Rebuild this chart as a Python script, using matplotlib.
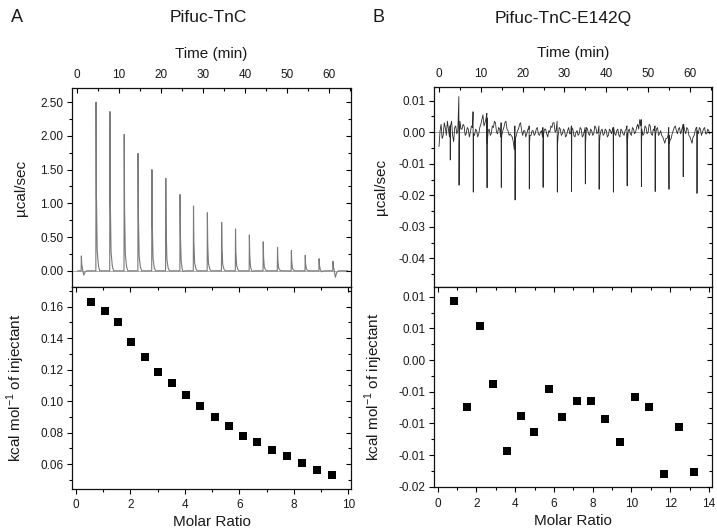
import numpy as np
import matplotlib
matplotlib.use("Agg")
import matplotlib.pyplot as plt
from matplotlib.ticker import MultipleLocator, FixedLocator, FixedFormatter

plt.rcParams["font.family"] = ["Liberation Sans", "DejaVu Sans"]
plt.rcParams["mathtext.fontset"] = "custom"
plt.rcParams["mathtext.rm"] = "Liberation Sans"

# ---- panel A: Pifuc-TnC thermogram (injection times, peak heights, µcal/sec) ----
a_inj_time = [1.0, 4.5, 7.8, 11.2, 14.5, 17.8, 21.1, 24.5, 27.7, 31.0,
              34.4, 37.7, 41.0, 44.3, 47.7, 51.0, 54.3, 57.6, 60.9]
a_inj_peak = [0.22, 2.50, 2.36, 2.02, 1.74, 1.50, 1.37, 1.13, 0.96, 0.86,
              0.72, 0.62, 0.53, 0.43, 0.35, 0.30, 0.23, 0.18, 0.14]
a_inj_dip = [-0.07, 0.0, 0.0, 0.0, 0.0, 0.0, 0.0, -0.03, 0.0, 0.0,
             0.0, 0.0, -0.02, 0.0, 0.0, 0.0, 0.0, -0.02, -0.10]

# ---- panel A: integrated heats ----
a_ratio = [0.55, 1.05, 1.53, 2.03, 2.52, 3.02, 3.53, 4.04, 4.57, 5.09,
           5.61, 6.14, 6.66, 7.21, 7.76, 8.30, 8.85, 9.41]
a_heat = [0.1632, 0.1575, 0.1505, 0.1376, 0.1281, 0.1186, 0.1116, 0.1040, 0.0970,
          0.0902, 0.0841, 0.0782, 0.0740, 0.0693, 0.0655, 0.0609, 0.0564, 0.0534]

# ---- panel B: Pifuc-TnC-E142Q thermogram baseline (0.001 µcal/sec, every 0.25 min) ----
b_noise_t0, b_noise_dt = 0.0, 0.25
b_noise_milli = [
    -4.5, 0.5, 2.5, -2.0, -1.0, 3.0, 1.5, -1.0, 3.5, 1.0, -1.5, 2.0, 3.5, -1.0, -3.0, 1.5, 2.0, -0.5, 0.5, 3.5,
    3.5, 1.0, 1.0, 2.5, 2.0, -1.0, -0.5, 1.5, 1.0, -1.5, 0.0, 2.0, 1.5, -0.5, -1.0, 1.0, 0.5, -1.5, -0.5, 1.5,
    2.5, 4.0, 5.5, 2.0, 3.0, 4.5, 4.5, 0.5, 1.0, -1.0, -0.5, 2.0, 1.5, 3.5, 3.0, 0.0, -0.5, 1.5, 1.0, -1.5,
    -1.0, 0.5, 1.5, 3.0, 3.5, 1.0, 0.5, -1.0, -0.5, -1.0, -1.5, -3.0, -5.5, -2.0, -1.0, 0.5, 1.0, 2.5, 3.0, 0.5,
    -1.0, 0.5, 0.5, -1.5, -0.5, 1.0, 1.0, -1.0, -1.0, 0.5, 0.5, -1.0, -0.5, 1.0, 1.5, -0.5, -1.0, 0.0, 0.5, -1.5,
    -0.5, 1.0, 1.0, -0.5, -1.5, 0.5, 0.0, 2.0, 1.5, 3.0, 3.0, 0.0, 0.5, -1.5, -1.0, 1.5, 1.0, -1.0, -0.5, 1.0,
    0.5, -1.5, -1.0, 0.5, 1.5, -0.5, -0.5, 1.5, 1.0, -1.0, -1.5, 0.0, 0.5, -1.0, -0.5, 1.5, 1.0, -1.5, -1.0, 0.5,
    0.5, 1.5, 1.0, -0.5, -1.0, 1.0, 0.5, -1.0, -0.5, 2.0, 1.5, -0.5, 0.0, -1.5, -1.0, 0.5, 1.0, -1.0, -0.5, 1.0,
    0.5, -1.5, -1.0, 1.0, 0.5, -0.5, 1.0, 1.5, -0.5, -1.0, 0.5, 1.0, -1.0, -1.5, 1.0, 0.5, -0.5, -1.0, 0.5, 1.0,
    -0.5, 0.5, 1.0, -0.5, -1.0, 1.5, 1.0, -0.5, 0.0, 1.5, 2.5, 1.0, 4.0, 2.0, 1.0, -1.0, -0.5, 2.0, 1.5, -0.5,
    0.0, 2.5, 2.0, -0.5, -1.0, 1.0, 0.5, -1.0, 1.0, 1.5, -1.0, -0.5, 0.5, -1.0, -1.5, -2.5, -3.5, -2.0, -2.0, -1.0,
    -1.0, -2.5, -2.0, -0.5, 0.5, 1.5, 2.0, 0.5, -0.5, 1.0, 1.5, -0.5, 0.5, 2.0, 2.5, 0.5, -0.5, 1.5, 1.0, -1.0,
    -1.5, -2.5, -3.5, -1.5, -1.0, 0.5, 1.5, 0.5, -0.5, 1.5, 1.0, -1.0, 0.0, 1.0, 1.5, -0.5, -0.5, 1.0, 0.5, -0.5,
]
b_inj_time = [2.7, 4.8, 8.2, 11.5, 14.9, 18.2, 21.6, 24.9, 28.3, 31.7,
              35.0, 38.3, 41.7, 45.0, 48.4, 51.7, 55.0, 58.4, 61.7]
b_inj_depth = [-8.8, -16.8, -19.0, -17.6, -17.5, -21.5, -18.0, -17.5, -19.0, -18.8,
               -16.4, -18.1, -19.0, -17.0, -17.2, -18.8, -18.1, -14.1, -19.4]
b_inj_up = [2.0, 11.3, 6.5, 6.0, 3.0, 2.0, 2.0, 1.5, 3.5, 2.0,
            1.5, 2.0, 1.5, 2.0, 4.0, 2.0, 1.5, 2.5, 1.5]

# ---- panel B: integrated heats ----
b_ratio = [0.83, 1.50, 2.18, 2.87, 3.56, 4.30, 4.99, 5.73, 6.43, 7.17,
           7.89, 8.65, 9.41, 10.17, 10.92, 11.68, 12.47, 13.24]
b_heat = [0.00937, -0.00737, 0.00537, -0.00374, -0.01437, -0.00879, -0.01132,
          -0.00453, -0.00905, -0.00647, -0.00647, -0.00932, -0.01300, -0.00589,
          -0.00737, -0.01800, -0.01053, -0.01763]
b_heat_ticks = [-0.020, -0.015, -0.010, -0.005, 0.000, 0.005, 0.010]
b_heat_ticklabels = ["-0.02", "-0.01", "-0.01", "-0.01", "0.00", "0.01", "0.01"]

TXT = "#1a1a1a"
TICK_FS = 8.5
LABEL_FS = 11


def spike_trace(times, peaks, dips, t_end):
    # sharp injection peak with a short exponential-looking tail
    xs, ys = [0.2], [0.0]
    for t, h, d in zip(times, peaks, dips):
        xs += [t - 0.02, t + 0.03, t + 0.12, t + 0.3, t + 0.6, t + 0.9, t + 1.3]
        ys += [0.0, h, 0.45 * h, 0.12 * h, 0.03 * h + d, d * 0.3, 0.0]
    xs.append(t_end)
    ys.append(0.0)
    return np.array(xs), np.array(ys)


def style_axis(ax):
    for s in ax.spines.values():
        s.set_linewidth(0.9)
        s.set_color("#111111")
    ax.tick_params(axis="y", which="major", direction="out", length=3.5, width=0.8,
                   labelsize=TICK_FS, labelcolor=TXT, pad=2.5)
    ax.tick_params(axis="y", which="minor", direction="out", length=2, width=0.8)
    # mirrored ticks pointing inward on the right
    twin = ax.twinx()
    twin.set_ylim(ax.get_ylim())
    twin.yaxis.set_major_locator(ax.yaxis.get_major_locator())
    twin.yaxis.set_minor_locator(ax.yaxis.get_minor_locator())
    twin.tick_params(axis="y", which="major", direction="in", length=3.5, width=0.8,
                     labelright=False)
    twin.tick_params(axis="y", which="minor", direction="in", length=2, width=0.8)
    for s in twin.spines.values():
        s.set_visible(False)
    return twin


def thermo_panel(ax):
    ax.set_xlim(-1.2, 65.2)
    ax.xaxis.set_major_locator(MultipleLocator(10))
    ax.xaxis.set_minor_locator(MultipleLocator(5))
    ax.xaxis.tick_top()
    ax.tick_params(axis="x", which="major", direction="in", length=3.5, width=0.8,
                   labelsize=TICK_FS, labelcolor=TXT, pad=5, bottom=False, top=True)
    ax.tick_params(axis="x", which="minor", direction="in", length=2, width=0.8,
                   bottom=False, top=True)
    ax.text(0.5, 1.17, "Time (min)", transform=ax.transAxes, ha="center",
            va="center", fontsize=LABEL_FS, color=TXT)
    ax.set_ylabel("\u00b5cal/sec", fontsize=LABEL_FS, color=TXT)


def heat_panel(ax):
    ax.tick_params(axis="x", which="major", direction="out", length=3.5, width=0.8,
                   labelsize=TICK_FS, labelcolor=TXT, pad=4)
    ax.tick_params(axis="x", which="minor", direction="out", length=2, width=0.8)
    twin = ax.twiny()
    twin.set_xlim(ax.get_xlim())
    twin.xaxis.set_major_locator(ax.xaxis.get_major_locator())
    twin.xaxis.set_minor_locator(ax.xaxis.get_minor_locator())
    twin.tick_params(axis="x", which="major", direction="in", length=3.5, width=0.8,
                     labeltop=False)
    twin.tick_params(axis="x", which="minor", direction="in", length=2, width=0.8)
    for s in twin.spines.values():
        s.set_visible(False)
    ax.text(0.5, -0.166, "Molar Ratio", transform=ax.transAxes, ha="center",
            va="center", fontsize=LABEL_FS, color=TXT)
    ax.set_ylabel(r"kcal mol$^{\mathregular{-1}}$ of injectant",
                  fontsize=LABEL_FS, color=TXT)


fig = plt.figure(figsize=(7.17, 5.30), dpi=100)

# ---------------- panel A ----------------
axA1 = fig.add_axes([0.1004, 0.4585, 0.389, 0.3755])
xa, ya = spike_trace(a_inj_time, a_inj_peak, a_inj_dip, 64.4)
axA1.axhline(0, color="#a0a0a0", lw=0.6, zorder=1)
axA1.plot(xa, ya, color="#7a7a7a", lw=0.8, zorder=2)
axA1.set_ylim(-0.24, 2.71)
axA1.yaxis.set_major_locator(MultipleLocator(0.5))
axA1.yaxis.set_minor_locator(MultipleLocator(0.25))
axA1.yaxis.set_major_formatter(matplotlib.ticker.FormatStrFormatter("%.2f"))
thermo_panel(axA1)
style_axis(axA1)
axA1.yaxis.set_label_coords(-0.158, 0.5)

axA2 = fig.add_axes([0.1004, 0.0774, 0.389, 0.381])
axA2.scatter(a_ratio, a_heat, marker="s", s=30, color="black", zorder=3, linewidths=0)
axA2.set_xlim(-0.15, 10.1)
axA2.set_ylim(0.0443, 0.1725)
axA2.xaxis.set_major_locator(MultipleLocator(2))
axA2.xaxis.set_minor_locator(MultipleLocator(1))
axA2.yaxis.set_major_locator(MultipleLocator(0.02))
axA2.yaxis.set_minor_locator(MultipleLocator(0.01))
axA2.yaxis.set_major_formatter(matplotlib.ticker.FormatStrFormatter("%.2f"))
heat_panel(axA2)
style_axis(axA2)
axA2.yaxis.set_label_coords(-0.161, 0.5)

# ---------------- panel B ----------------
axB1 = fig.add_axes([0.6053, 0.459, 0.3873, 0.3763])
tb = b_noise_t0 + b_noise_dt * np.arange(len(b_noise_milli))
xb = list(tb)
yb = list(b_noise_milli)
for t, d, u in zip(b_inj_time, b_inj_depth, b_inj_up):
    xb += [t - 0.06, t - 0.01, t + 0.04]
    yb += [u, d, d * 0.2]
order = np.argsort(xb)
xb = np.array(xb)[order]
yb = np.array(yb)[order] * 1e-3
axB1.axhline(0, color="#a0a0a0", lw=0.6, zorder=1)
axB1.plot(xb, yb, color="#2a2a2a", lw=0.6, zorder=2)
axB1.set_ylim(-0.049, 0.01425)
axB1.yaxis.set_major_locator(MultipleLocator(0.01))
axB1.yaxis.set_minor_locator(MultipleLocator(0.005))
axB1.yaxis.set_major_formatter(matplotlib.ticker.FormatStrFormatter("%.2f"))
thermo_panel(axB1)
style_axis(axB1)
axB1.yaxis.set_label_coords(-0.166, 0.5)

axB2 = fig.add_axes([0.6053, 0.0806, 0.3873, 0.3784])
axB2.scatter(b_ratio, b_heat, marker="s", s=30, color="black", zorder=3, linewidths=0)
axB2.set_xlim(-0.19, 14.14)
axB2.set_ylim(-0.0201, 0.0116)
axB2.xaxis.set_major_locator(MultipleLocator(2))
axB2.xaxis.set_minor_locator(MultipleLocator(1))
axB2.yaxis.set_major_locator(FixedLocator(b_heat_ticks))
axB2.yaxis.set_major_formatter(FixedFormatter(b_heat_ticklabels))
axB2.yaxis.set_minor_locator(MultipleLocator(0.0025))
heat_panel(axB2)
style_axis(axB2)
axB2.yaxis.set_label_coords(-0.176, 0.5)

# panel letters and titles
fig.text(17 / 717, 1 - 18 / 530, "A", fontsize=13, ha="center", va="center", color=TXT)
fig.text(208 / 717, 1 - 18 / 530, "Pifuc-TnC", fontsize=12.5, ha="center", va="center",
         color=TXT)
fig.text(379 / 717, 1 - 18 / 530, "B", fontsize=13, ha="center", va="center", color=TXT)
fig.text(563 / 717, 1 - 18 / 530, "Pifuc-TnC-E142Q", fontsize=12.5, ha="center",
         va="center", color=TXT)

fig.savefig("out.png", dpi=100)
